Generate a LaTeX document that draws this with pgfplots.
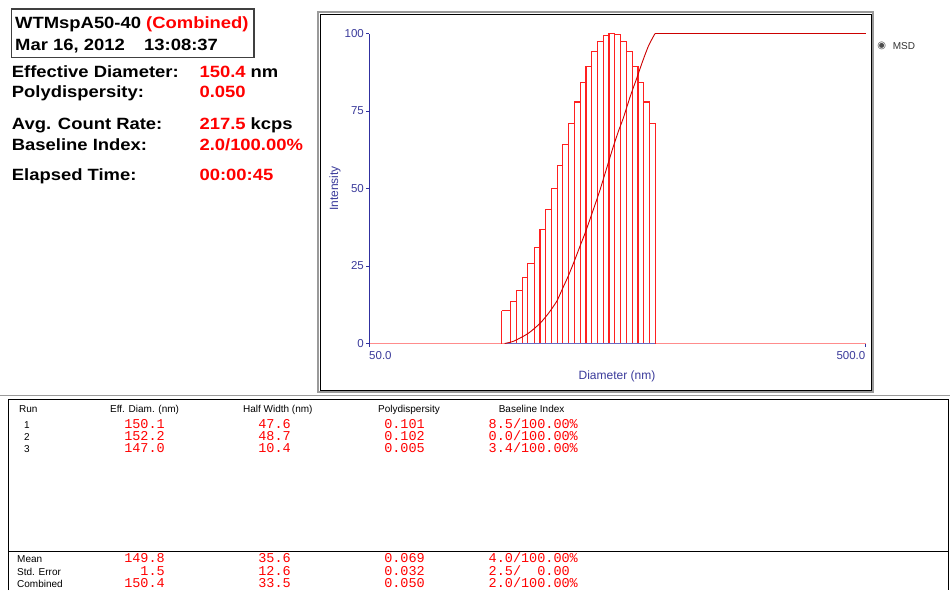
\documentclass[border=0pt]{standalone}
\usepackage{pgfplots}
\pgfplotsset{compat=1.18}
\usepackage{fontspec}
\setmainfont{Liberation Sans}
\newfontfamily\monofont{Liberation Mono}
\newfontfamily\symfont{DejaVu Sans}
\definecolor{navytext}{HTML}{3B3B9B}
\definecolor{navyaxis}{HTML}{3030A0}
\definecolor{barred}{HTML}{FF2020}
\definecolor{curvered}{HTML}{CC0000}
\definecolor{pinkline}{HTML}{FF8C8C}
\definecolor{blueline}{HTML}{6A6AC0}
\definecolor{framegray}{HTML}{9A9A9A}
\definecolor{vred}{HTML}{FF0000}
\newcommand\sumfont{\fontsize{16.3}{19}\selectfont\bfseries}
\newcommand\hdrfont{\fontsize{10}{12}\selectfont}
\newcommand\valfont{\monofont\fontsize{13.5}{15}\selectfont}
\newcommand\summ[3]{\node[anchor=base west,inner sep=0pt,xscale=1.13] at (#1pt,-#2pt) {\sumfont #3};}
\newcommand\hdr[3]{\node[anchor=base,inner sep=0pt] at (#1pt,-#2pt) {\hdrfont #3};}
\newcommand\lab[3]{\node[anchor=base west,inner sep=0pt] at (#1pt,-#2pt) {\hdrfont #3};}
\newcommand\valr[3]{\node[anchor=base east,inner sep=0pt,text=vred] at (#1pt,-#2pt) {\valfont #3};}
\newcommand\vall[3]{\node[anchor=base west,inner sep=0pt,text=vred] at (#1pt,-#2pt) {\valfont #3};}

% bar levels: left edge x, height of the bar starting there
\pgfplotstableread{
x y
92.5 10.6
96.5 13.5
98.9 17.0
101.7 21.3
104.4 25.8
107.5 31.1
110.5 36.8
113.5 43.2
116.5 50.1
119.6 57.3
122.8 64.2
126.0 71.1
129.4 77.9
133.1 84.1
136.8 89.5
140.5 94.1
144.2 97.4
148.2 99.4
152.2 100.0
156.3 99.6
160.7 97.4
165.2 94.1
169.6 89.5
174.1 84.1
178.7 77.9
183.5 71.1
188.4 71.1
}\bars
% bar edges: x, height of the taller neighbour
\pgfplotstableread{
x y
92.5 10.6
96.5 13.5
98.9 17.0
101.7 21.3
104.4 25.8
107.5 31.1
110.5 36.8
113.5 43.2
116.5 50.1
119.6 57.3
122.8 64.2
126.0 71.1
129.4 77.9
133.1 84.1
136.8 89.5
140.5 94.1
144.2 97.4
148.2 99.4
152.2 100.0
156.3 100.0
160.7 99.6
165.2 97.4
169.6 94.1
174.1 89.5
178.7 84.1
183.5 77.9
188.4 71.1
}\edges

\begin{document}
\begin{tikzpicture}
\useasboundingbox (0,0) rectangle (950pt,-590pt);
\fill[white] (0,0) rectangle (950pt,-590pt);

% ---- summary block
\draw[line width=1.3pt, draw=black!75] (11.7pt,-9pt) rectangle (254pt,-57.3pt);
\summ{15}{28.3}{WTMspA50-40 \textcolor{vred}{(Combined)}}
\summ{15}{50}{Mar 16, 2012}
\summ{144}{50}{13:08:37}
\summ{11.7}{77.3}{Effective Diameter:}
\summ{199.3}{77.3}{\textcolor{vred}{150.4} nm}
\summ{11.7}{97.3}{Polydispersity:}
\summ{199.3}{97.3}{\textcolor{vred}{0.050}}
\summ{11.7}{129.3}{Avg. Count Rate:}
\summ{199.3}{129.3}{\textcolor{vred}{217.5} kcps}
\summ{11.7}{150.7}{Baseline Index:}
\summ{199.3}{150.7}{\textcolor{vred}{2.0/100.00\%}}
\summ{11.7}{180}{Elapsed Time:}
\summ{199.3}{180}{\textcolor{vred}{00:00:45}}

% ---- graph panel frame
\draw[line width=1.5pt, draw=framegray] (318pt,-12pt) rectangle (873pt,-392pt);
\draw[line width=0.9pt, draw=black] (320pt,-14pt) rectangle (871pt,-390pt);

\begin{axis}[
  at={(369pt,-343.5pt)}, anchor=south west,
  scale only axis, width=496.5pt, height=310pt,
  xmode=log, xmin=50, xmax=500, ymin=0, ymax=100,
  axis x line*=bottom, axis y line*=left,
  x axis line style={draw=pinkline, line width=1.3pt},
  y axis line style={draw=navyaxis, line width=1pt},
  xtick={50,500}, xticklabels={},
  minor tick length=0pt, minor x tick style={draw=none},
  ytick={0,25,50,75,100},
  tick align=outside, major tick length=3pt,
  major tick style={draw=navyaxis, line width=0.8pt},
  yticklabel style={font=\fontsize{11.5}{12}\selectfont, text=navytext, inner sep=0pt, xshift=-2pt},
  /pgf/number format/assume math mode=true,
  clip=false,
]
\addplot[ycomb, draw=barred, line width=1.1pt, mark=none] table[x=x,y=y] {\edges};
\addplot[const plot mark left, draw=barred, line width=1.1pt, mark=none] table[x=x,y=y] {\bars};
\addplot[draw=blueline, line width=1.2pt] coordinates {(93.8,0) (188.4,0)};
\addplot[draw=curvered, line width=0.9pt, smooth, tension=0.4] coordinates {
(93.8,0) (98,0.8) (104.7,3.3) (110.5,6.5) (115,9.8) (119.4,13.6) (122.5,17.5)
(126.0,21.8) (129.5,26.5) (133.1,31.5) (136.2,35.6) (139.4,40.2) (143,45.3)
(146.0,49.6) (150.5,56.5) (155.3,63.6) (159,68.5) (162.6,72.7) (168,79.8)
(173.0,85.5) (178,91.2) (183,96.2) (188.4,100)};
\addplot[draw=curvered, line width=0.9pt] coordinates {(188.4,100) (500,100)};
\node[anchor=north west, inner sep=0pt, text=navytext, font=\fontsize{11.5}{12}\selectfont] at (axis cs:50,0) [yshift=-8pt] {50.0};
\node[anchor=north east, inner sep=0pt, text=navytext, font=\fontsize{11.5}{12}\selectfont] at (axis cs:500,0) [yshift=-8pt] {500.0};
\end{axis}

\node[rotate=90, text=navytext, font=\fontsize{12}{13}\selectfont] at (335pt,-188.5pt) {Intensity};
\node[text=navytext, font=\fontsize{12}{13}\selectfont] at (617pt,-376.5pt) {Diameter (nm)};

% legend
\node[inner sep=0pt, text=black!70, font=\symfont\fontsize{10}{10}\selectfont] at (881.7pt,-45.7pt) {◉};
\node[anchor=west, inner sep=0pt, text=black!80, font=\fontsize{10}{10}\selectfont] at (892.7pt,-45.7pt) {MSD};

% ---- table
\draw[line width=1.5pt, draw=framegray] (0pt,-395.5pt) -- (950pt,-395.5pt);
\draw[line width=1pt, draw=black] (8.4pt,-590pt) -- (8.4pt,-399pt) -- (948pt,-399pt) -- (948pt,-590pt);
\draw[line width=1pt, draw=black] (8.4pt,-551pt) -- (948pt,-551pt);

\lab{19}{412.6}{Run}
\hdr{144.6}{412.6}{Eff. Diam. (nm)}
\hdr{277.8}{412.6}{Half Width (nm)}
\hdr{409}{412.6}{Polydispersity}
\hdr{531.6}{412.6}{Baseline Index}

\lab{24}{428}{1}
\lab{24}{440.2}{2}
\lab{24}{452.4}{3}
\valr{165}{428}{150.1}\valr{291}{428}{47.6}\valr{425}{428}{0.101}\vall{488.5}{428}{8.5/100.00\%}
\valr{165}{440.2}{152.2}\valr{291}{440.2}{48.7}\valr{425}{440.2}{0.102}\vall{488.5}{440.2}{0.0/100.00\%}
\valr{165}{452.4}{147.0}\valr{291}{452.4}{10.4}\valr{425}{452.4}{0.005}\vall{488.5}{452.4}{3.4/100.00\%}

\lab{17}{562.8}{Mean}
\lab{17}{575.2}{Std. Error}
\lab{17}{587.2}{Combined}
\valr{165}{562.8}{149.8}\valr{291}{562.8}{35.6}\valr{425}{562.8}{0.069}\vall{488.5}{562.8}{4.0/100.00\%}
\valr{165}{575.2}{1.5}\valr{291}{575.2}{12.6}\valr{425}{575.2}{0.032}\vall{488.5}{575.2}{2.5/\phantom{10}0.00}
\valr{165}{587.2}{150.4}\valr{291}{587.2}{33.5}\valr{425}{587.2}{0.050}\vall{488.5}{587.2}{2.0/100.00\%}
\end{tikzpicture}
\end{document}
